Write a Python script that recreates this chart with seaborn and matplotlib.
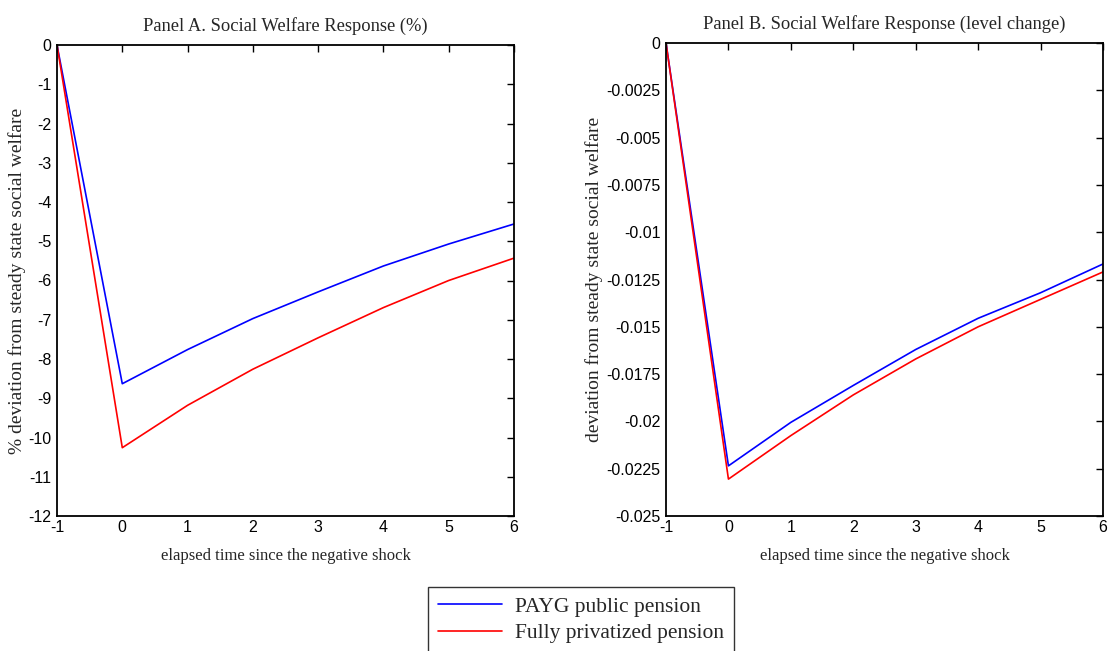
import numpy as np
import pandas as pd
import matplotlib
matplotlib.use('Agg')
import matplotlib.pyplot as plt
import seaborn as sns

# elapsed periods
periods = [-1, 0, 1, 2, 3, 4, 5, 6]

# Panel A: % deviation
payg_pct = [0.0, -8.63, -7.76, -6.97, -6.29, -5.63, -5.07, -4.56]
priv_pct = [0.0, -10.26, -9.18, -8.26, -7.46, -6.69, -6.00, -5.43]

# Panel B: level deviation
payg_lvl = [0.0, -0.02235, -0.02005, -0.0181, -0.0162, -0.01455, -0.0132, -0.01168]
priv_lvl = [0.0, -0.02305, -0.02075, -0.0186, -0.0167, -0.0150, -0.01355, -0.0121]

series_names = ['PAYG public pension', 'Fully privatized pension']
series_colors = ['#0000ff', '#ff0000']

ticks_a = [0, -1, -2, -3, -4, -5, -6, -7, -8, -9, -10, -11, -12]
ticks_b = [0, -0.0025, -0.005, -0.0075, -0.01, -0.0125, -0.015, -0.0175, -0.02, -0.0225, -0.025]
tick_labels_b = ['0', '-0.0025', '-0.005', '-0.0075', '-0.01', '-0.0125', '-0.015',
                 '-0.0175', '-0.02', '-0.0225', '-0.025']

sns.set_style('white')
plt.rcParams['font.family'] = ['Liberation Sans', 'DejaVu Sans']

df_a = pd.DataFrame({'t': periods * 2,
                     'v': payg_pct + priv_pct,
                     's': [series_names[0]] * 8 + [series_names[1]] * 8})
df_b = pd.DataFrame({'t': periods * 2,
                     'v': payg_lvl + priv_lvl,
                     's': [series_names[0]] * 8 + [series_names[1]] * 8})
pal = dict(zip(series_names, series_colors))

fig = plt.figure(figsize=(11.11, 6.51), dpi=100)
ax_a = fig.add_axes([57 / 1111, 1 - 516 / 651, (514 - 57) / 1111, (516 - 45) / 651])
ax_b = fig.add_axes([666 / 1111, 1 - 516 / 651, (1103 - 666) / 1111, (516 - 43) / 651])

serif = ['Liberation Serif', 'DejaVu Serif']

for ax, df in [(ax_a, df_a), (ax_b, df_b)]:
    sns.lineplot(data=df, x='t', y='v', hue='s', palette=pal, ax=ax, linewidth=1.2,
                 legend=False)
    ax.set_xlim(-1, 6)
    ax.set_xticks(periods)
    ax.set_xticklabels([str(p) for p in periods])
    ax.tick_params(direction='in', length=5, width=1, top=True, right=True, left=False,
                   labelsize=11.5, pad=3, colors='black')
    ax.tick_params(axis='y', pad=4)
    for sp in ax.spines.values():
        sp.set_visible(True)
        sp.set_linewidth(1.3)
        sp.set_color('black')
    ax.set_xlabel('elapsed time since the negative shock', family=serif, fontsize=12, labelpad=9)

ax_a.set_ylim(-12, 0)
ax_a.set_yticks(ticks_a)
ax_a.set_yticklabels([str(t) for t in ticks_a])
ax_a.set_title('Panel A. Social Welfare Response (%)', family=serif, fontsize=13.3, pad=10)
ax_a.set_ylabel('% deviation from steady state social welfare', family=serif, fontsize=14)
ax_a.yaxis.set_label_coords(-0.068, 0.5)

ax_b.set_ylim(-0.025, 0)
ax_b.set_yticks(ticks_b)
ax_b.set_yticklabels(tick_labels_b)
ax_b.set_title('Panel B. Social Welfare Response (level change)', family=serif, fontsize=13.3, pad=10)
ax_b.set_ylabel('deviation from steady state social welfare', family=serif, fontsize=14)
ax_b.yaxis.set_label_coords(-0.145, 0.5)

handles = [plt.Line2D([], [], color=c, linewidth=1.2) for c in series_colors]
leg = fig.legend(handles, series_names, loc='upper center', bbox_to_anchor=(581 / 1111, 1 - 587 / 651),
                 ncol=1, frameon=True, fancybox=False, prop={'family': serif, 'size': 15.5},
                 handlelength=3.0, borderpad=0.45, labelspacing=0.3, handletextpad=0.6,
                 borderaxespad=0)
leg.get_frame().set_edgecolor('black')
leg.get_frame().set_linewidth(1.0)

fig.savefig('out.png', dpi=100)
